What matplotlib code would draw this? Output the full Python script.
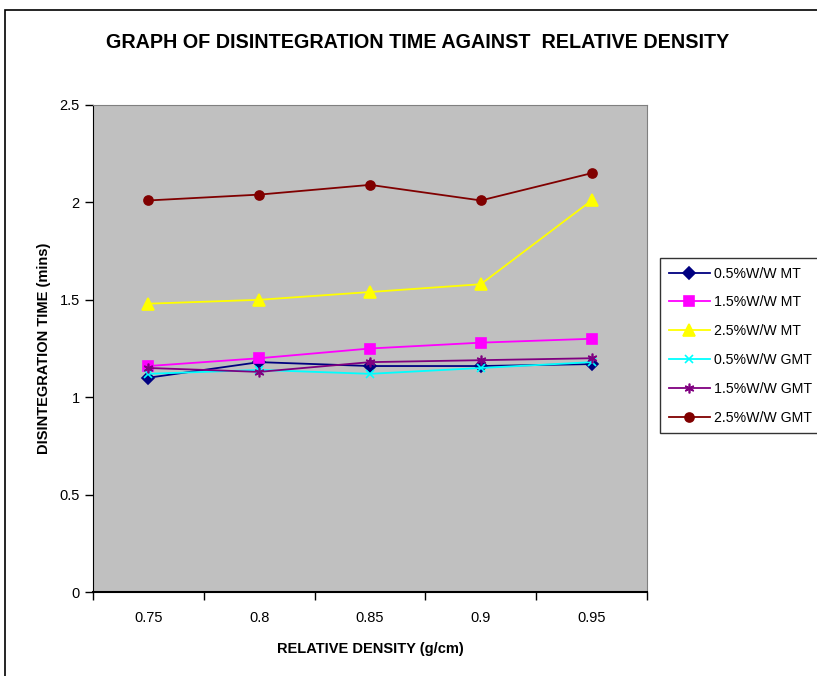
import matplotlib
matplotlib.use("Agg")
import matplotlib.pyplot as plt
from matplotlib.patches import Rectangle

plt.rcParams['font.family'] = ['Liberation Sans', 'DejaVu Sans']

# data
density = ["0.75", "0.8", "0.85", "0.9", "0.95"]
mt_05 = [1.10, 1.18, 1.16, 1.16, 1.17]
mt_15 = [1.16, 1.20, 1.25, 1.28, 1.30]
mt_25 = [1.48, 1.50, 1.54, 1.58, 2.01]
gmt_05 = [1.12, 1.14, 1.12, 1.15, 1.18]
gmt_15 = [1.15, 1.13, 1.18, 1.19, 1.20]
gmt_25 = [2.01, 2.04, 2.09, 2.01, 2.15]

series = [
    ("0.5%W/W MT", mt_05, "#000080", "D", 6),
    ("1.5%W/W MT", mt_15, "#FF00FF", "s", 6.5),
    ("2.5%W/W MT", mt_25, "#FFFF00", "^", 8),
    ("0.5%W/W GMT", gmt_05, "#00FFFF", "x", 6),
    ("1.5%W/W GMT", gmt_15, "#800080", (6, 2, 0), 7),
    ("2.5%W/W GMT", gmt_25, "#800000", "o", 6.5),
]

fig = plt.figure(figsize=(8.17, 6.76), dpi=100)
ax = fig.add_axes([93 / 817, 84 / 676, 554 / 817, 487 / 676])
ax.set_facecolor("#C0C0C0")

xpos = list(range(len(density)))
for label, vals, color, marker, size in series:
    ax.plot(xpos, vals, color=color, marker=marker, markersize=size,
            linewidth=1.3, markeredgewidth=1.2, label=label)

ax.set_xlim(-0.5, len(density) - 0.5)
ax.set_ylim(0, 2.5)
ax.set_yticks([0, 0.5, 1, 1.5, 2, 2.5])
ax.set_yticklabels(["0", "0.5", "1", "1.5", "2", "2.5"])
ax.set_xticks([i - 0.5 for i in range(len(density) + 1)])
ax.set_xticklabels([])
ax.set_xticks(xpos, minor=True)
ax.set_xticklabels(density, minor=True)
ax.tick_params(axis="x", which="major", direction="out", length=6, width=1)
ax.tick_params(axis="x", which="minor", length=0, pad=14, labelsize=10.5)
ax.tick_params(axis="y", direction="out", length=6, width=1, labelsize=10.5)

for side in ("top", "right"):
    ax.spines[side].set_color("#808080")
for side in ("left", "bottom"):
    ax.spines[side].set_color("black")
ax.spines["bottom"].set_linewidth(1.5)

ax.set_xlabel("RELATIVE DENSITY (g/cm)", fontsize=10.5, fontweight="bold",
              labelpad=12)
ax.set_ylabel("DISINTEGRATION TIME (mins)", fontsize=10.5, fontweight="bold",
              labelpad=6)
fig.text(418 / 817, 1 - 43 / 676,
         "GRAPH OF DISINTEGRATION TIME AGAINST  RELATIVE DENSITY",
         ha="center", va="center", fontsize=14.2, fontweight="bold")

leg = ax.legend(loc="upper left", bbox_to_anchor=(660 / 817, 1 - 258 / 676),
                bbox_transform=fig.transFigure, frameon=True, fancybox=False,
                fontsize=10.2, handlelength=2.9, labelspacing=1.05,
                borderpad=0.6, handletextpad=0.3, borderaxespad=0)
leg.get_frame().set_edgecolor("black")
leg.get_frame().set_linewidth(1)

# outer chart-area border
fig.patches.append(Rectangle((5 / 817, -0.1), 1.2, 1 - 10 / 676 + 0.1,
                             transform=fig.transFigure, fill=False,
                             edgecolor="black", linewidth=1.2))

fig.savefig("out.png", dpi=100)
